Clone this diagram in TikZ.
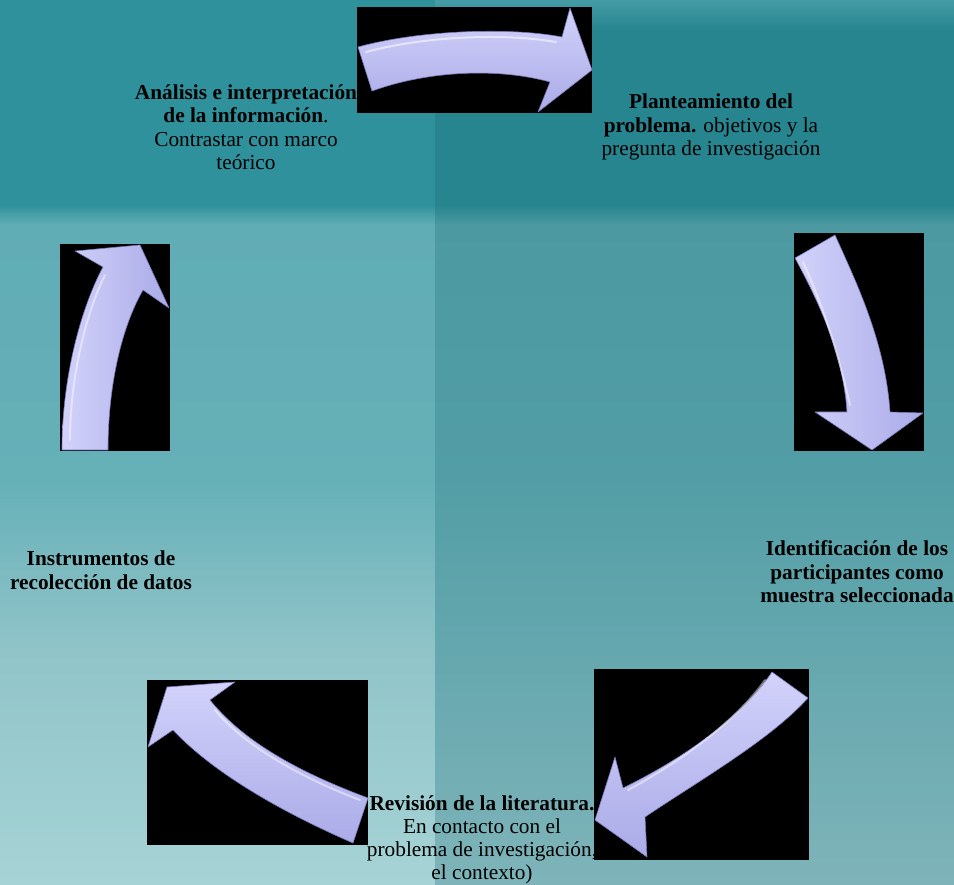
\documentclass[tikz,border=0pt]{standalone}
\usepackage{fontspec}
\setmainfont{Liberation Serif}
\newfontfamily\timesfam{Liberation Serif}
\definecolor{topL}{HTML}{2F919C}
\definecolor{topR}{HTML}{27858F}
\definecolor{lowLa}{HTML}{61ADB5}
\definecolor{lowLb}{HTML}{66B0B8}
\definecolor{lowLc}{HTML}{90C4C8}
\definecolor{lowLd}{HTML}{A6D3D6}
\definecolor{lowRa}{HTML}{4C99A1}
\definecolor{lowRb}{HTML}{539EA6}
\definecolor{lowRc}{HTML}{7EB4B9}
\definecolor{arrLight}{HTML}{D2D2FB}
\definecolor{arrDark}{HTML}{ABABE8}
\definecolor{arrEdge}{HTML}{7878B8}
\tikzset{
  x=1pt, y=-1pt,
  blackbox/.style={fill=black},
  bigarrow/.style={draw=arrEdge, line width=0.6pt, line join=round},
  label/.style={align=center, inner sep=0pt, font=\timesfam\fontsize{21.3}{23.5}\selectfont, text=black},
}
\begin{document}
\begin{tikzpicture}
\useasboundingbox (0,0) rectangle (954,885);
% background
\fill[topL] (0,0) rectangle (435,215);
\fill[topR] (435,0) rectangle (954,215);
\shade[top color=topL!90!white, bottom color=topR] (435,0) rectangle (954,30);
\shade[top color=lowLa, bottom color=lowLb] (0,215) rectangle (435,481);
\shade[top color=lowLb, bottom color=lowLc] (0,480) rectangle (435,651);
\shade[top color=lowLc, bottom color=lowLd] (0,650) rectangle (435,885);
\shade[top color=lowRa, bottom color=lowRb] (435,215) rectangle (954,481);
\shade[top color=lowRb, bottom color=lowRc] (435,480) rectangle (954,885);
\shade[top color=topL, bottom color=lowLa] (0,205) rectangle (435,225);
\shade[top color=topR, bottom color=lowRa] (435,205) rectangle (954,225);
% black boxes
\fill[blackbox] (357,7) rectangle (592,113);
\fill[blackbox] (794,233) rectangle (924,451);
\fill[blackbox] (594,669) rectangle (809,860);
\fill[blackbox] (147,680) rectangle (368,845);
\fill[blackbox] (60,244) rectangle (170,451);
% arrows
\shade[bigarrow, top color=arrLight, bottom color=arrDark]
  (358,47) .. controls (420,30) and (510,27) .. (562,37) -- (570,8) -- (592,70)
  -- (538,112) -- (550,82) .. controls (500,68) and (430,70) .. (372,91) -- cycle;
\shade[bigarrow, left color=arrLight, right color=arrDark]
  (795,258) -- (835,235) .. controls (855,280) and (885,340) .. (890,412)
  -- (923,413) -- (872,450) -- (815,412) -- (847,412)
  .. controls (843,350) and (815,295) .. (795,258) -- cycle;
\shade[bigarrow, left color=arrLight, right color=arrDark]
  (62,450) -- (108,450) .. controls (108,390) and (120,330) .. (143,290)
  -- (169,308) -- (140,245) -- (75,251) -- (103,267)
  .. controls (80,310) and (62,380) .. (62,450) -- cycle;
\shade[bigarrow, top color=arrLight, bottom color=arrDark]
  (368,798) .. controls (320,780) and (250,750) .. (210,700) -- (235,682)
  -- (167,687) -- (148,747) -- (173,730)
  .. controls (220,780) and (300,820) .. (353,843) -- cycle;
\shade[bigarrow, top color=arrLight, bottom color=arrDark]
  (772,672) -- (808,698) .. controls (770,740) and (700,780) .. (645,817)
  -- (647,857) -- (595,820) -- (615,757) -- (623,788)
  .. controls (680,760) and (740,720) .. (772,672) -- cycle;
% highlights
\draw[white, opacity=0.55, line width=2pt, line cap=round]
  (366,52) .. controls (425,36) and (505,33) .. (556,42);
\draw[white, opacity=0.45, line width=2pt, line cap=round]
  (803,262) .. controls (820,300) and (835,340) .. (850,405);
\draw[white, opacity=0.45, line width=2pt, line cap=round]
  (70,440) .. controls (70,380) and (85,315) .. (105,275);
\draw[white, opacity=0.45, line width=2pt, line cap=round]
  (360,800) .. controls (315,783) and (250,752) .. (215,710);
\draw[white, opacity=0.45, line width=2pt, line cap=round]
  (765,680) .. controls (735,722) and (680,762) .. (628,790);
% texts
\node[label] (analisis) at (246,127) {\textbf{Análisis e interpretación}\\\textbf{de la información}.\\Contrastar con marco\\teórico};
\node[label] (planteamiento) at (711,127) {\textbf{Planteamiento del}\\\textbf{problema.} objetivos y la\\pregunta de investigación};
\node[label] (identificacion) at (857,572) {\textbf{Identificación de los}\\\textbf{participantes como}\\\textbf{muestra seleccionada}};
\node[label] (instrumentos) at (101,570) {\textbf{Instrumentos de}\\\textbf{recolección de datos}};
\node[label, font=\timesfam\fontsize{21.3}{23}\selectfont] (revision) at (482,840) {\textbf{Revisión de la literatura.}\\En contacto con el\\problema de investigación,\\el contexto)};
\end{tikzpicture}
\end{document}
